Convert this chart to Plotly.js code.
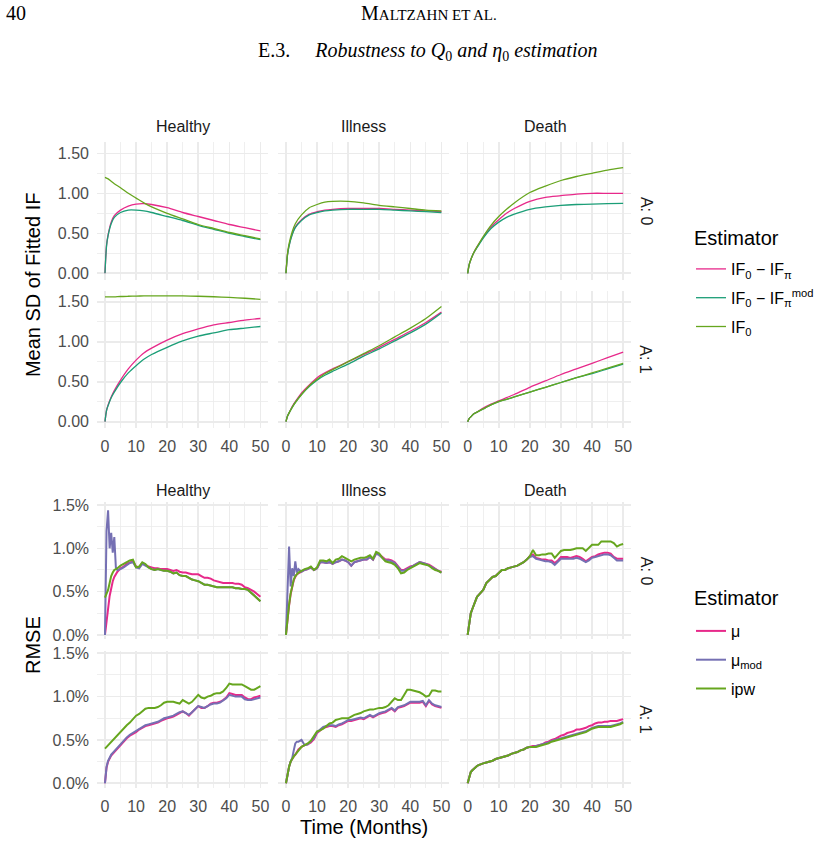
<!DOCTYPE html>
<html>
<head>
<meta charset="utf-8">
<script src="https://cdn.plot.ly/plotly-3.0.1.min.js"></script>
<style>
  html, body { margin: 0; padding: 0; background: #ffffff; }
  #chart { width: 820px; height: 844px; }
</style>
</head>
<body>
<div id="chart"></div>
<script>
// ---------------- data ----------------
const states = ['Healthy', 'Illness', 'Death'];
const treatments = ['A: 0', 'A: 1'];

// Mean SD of the fitted influence function, smooth curves over time (months)
const monthsSD = [0, 0.5, 1, 2, 3, 5, 7.5, 10, 12.5, 15, 20, 25, 30, 35, 40, 45, 50];

const sdHealthyA0Diff    = [0, 0.35, 0.48, 0.64, 0.72, 0.79, 0.84, 0.865, 0.87, 0.86, 0.82, 0.76, 0.71, 0.66, 0.61, 0.57, 0.53];
const sdHealthyA0DiffMod = [0, 0.34, 0.47, 0.62, 0.70, 0.76, 0.79, 0.79, 0.78, 0.76, 0.71, 0.66, 0.60, 0.55, 0.50, 0.46, 0.42];
const sdHealthyA0IF0     = [1.20, 1.19, 1.18, 1.15, 1.12, 1.07, 1.00, 0.94, 0.88, 0.83, 0.75, 0.68, 0.61, 0.56, 0.51, 0.47, 0.43];

const sdIllnessA0Diff    = [0, 0.24, 0.35, 0.49, 0.58, 0.67, 0.74, 0.77, 0.79, 0.80, 0.81, 0.81, 0.81, 0.80, 0.79, 0.78, 0.77];
const sdIllnessA0DiffMod = [0, 0.23, 0.34, 0.48, 0.57, 0.66, 0.73, 0.76, 0.78, 0.79, 0.80, 0.80, 0.80, 0.79, 0.78, 0.77, 0.76];
const sdIllnessA0IF0     = [0, 0.25, 0.37, 0.52, 0.62, 0.73, 0.82, 0.86, 0.89, 0.90, 0.90, 0.88, 0.85, 0.83, 0.81, 0.79, 0.78];

const sdDeathA0Diff      = [0, 0.11, 0.17, 0.26, 0.33, 0.45, 0.58, 0.67, 0.75, 0.81, 0.90, 0.95, 0.97, 0.99, 1.00, 1.00, 1.00];
const sdDeathA0DiffMod   = [0, 0.11, 0.17, 0.26, 0.32, 0.44, 0.56, 0.64, 0.70, 0.74, 0.80, 0.83, 0.85, 0.86, 0.865, 0.87, 0.875];
const sdDeathA0IF0       = [0, 0.11, 0.17, 0.26, 0.33, 0.46, 0.60, 0.71, 0.80, 0.88, 1.01, 1.09, 1.16, 1.21, 1.25, 1.29, 1.32];

const sdHealthyA1Diff    = [0, 0.14, 0.21, 0.31, 0.39, 0.52, 0.66, 0.77, 0.86, 0.92, 1.02, 1.10, 1.16, 1.21, 1.24, 1.27, 1.29];
const sdHealthyA1DiffMod = [0, 0.14, 0.20, 0.30, 0.37, 0.49, 0.61, 0.70, 0.78, 0.84, 0.93, 1.01, 1.07, 1.11, 1.15, 1.17, 1.19];
const sdHealthyA1IF0     = [1.56, 1.56, 1.56, 1.56, 1.56, 1.565, 1.568, 1.57, 1.572, 1.573, 1.574, 1.572, 1.568, 1.562, 1.553, 1.543, 1.53];

const sdIllnessA1Diff    = [0, 0.07, 0.11, 0.19, 0.25, 0.36, 0.46, 0.55, 0.61, 0.66, 0.75, 0.84, 0.93, 1.03, 1.13, 1.24, 1.37];
const sdIllnessA1DiffMod = [0, 0.07, 0.11, 0.18, 0.24, 0.34, 0.44, 0.52, 0.58, 0.63, 0.72, 0.82, 0.91, 1.01, 1.11, 1.22, 1.36];
const sdIllnessA1IF0     = [0, 0.07, 0.11, 0.18, 0.24, 0.34, 0.45, 0.53, 0.60, 0.65, 0.75, 0.85, 0.95, 1.06, 1.17, 1.29, 1.44];

const sdDeathA1Diff      = [0, 0.04, 0.06, 0.10, 0.12, 0.17, 0.22, 0.26, 0.30, 0.34, 0.43, 0.51, 0.59, 0.66, 0.73, 0.80, 0.87];
const sdDeathA1DiffMod   = [0, 0.04, 0.06, 0.10, 0.12, 0.16, 0.21, 0.25, 0.28, 0.31, 0.37, 0.43, 0.49, 0.55, 0.60, 0.66, 0.72];
const sdDeathA1IF0       = [0, 0.04, 0.06, 0.10, 0.12, 0.16, 0.21, 0.25, 0.28, 0.31, 0.37, 0.43, 0.49, 0.55, 0.61, 0.67, 0.73];

// RMSE (in percent) over time (months)
const monthsRMSE = [0, 0.5, 1, 1.5, 2, 2.5, 3, 3.5, 4, 5, 6, 7, 8, 9, 10, 11, 12, 13, 14, 15, 16, 17, 18, 19, 20,
  21, 22, 23, 24, 25, 26, 27, 28, 29, 30, 31, 32, 33, 34, 35, 36, 37, 38, 39, 40, 41, 42, 43, 44, 45, 46, 47, 48, 49, 50];

const rmseHealthyA0Mu    = [0, 0.18, 0.30, 0.45, 0.55, 0.62, 0.67, 0.70, 0.73, 0.77, 0.79, 0.82, 0.84, 0.85, 0.79, 0.78, 0.83, 0.81, 0.79, 0.78,
  0.77, 0.77, 0.76, 0.76, 0.76, 0.75, 0.74, 0.75, 0.73, 0.72, 0.72, 0.71, 0.70, 0.70, 0.70, 0.68, 0.66, 0.66, 0.65, 0.63,
  0.62, 0.61, 0.60, 0.60, 0.60, 0.60, 0.59, 0.59, 0.58, 0.55, 0.54, 0.52, 0.50, 0.47, 0.44];
const rmseHealthyA0MuMod = [0, 1.20, 1.44, 1.00, 1.18, 0.95, 1.13, 0.78, 0.75, 0.76, 0.78, 0.81, 0.83, 0.84, 0.78, 0.77, 0.82, 0.80, 0.78, 0.76,
  0.75, 0.76, 0.75, 0.74, 0.74, 0.73, 0.71, 0.72, 0.69, 0.68, 0.68, 0.66, 0.64, 0.63, 0.62, 0.60, 0.58, 0.58, 0.57, 0.56,
  0.55, 0.55, 0.55, 0.55, 0.55, 0.55, 0.54, 0.54, 0.53, 0.53, 0.52, 0.49, 0.46, 0.43, 0.39];
const rmseHealthyA0Ipw   = [0.43, 0.48, 0.52, 0.60, 0.68, 0.72, 0.75, 0.76, 0.77, 0.80, 0.82, 0.84, 0.86, 0.87, 0.78, 0.79, 0.84, 0.82, 0.78, 0.76,
  0.75, 0.76, 0.75, 0.74, 0.74, 0.73, 0.71, 0.72, 0.69, 0.68, 0.68, 0.66, 0.64, 0.63, 0.62, 0.60, 0.58, 0.58, 0.57, 0.56,
  0.55, 0.55, 0.55, 0.55, 0.55, 0.55, 0.54, 0.54, 0.53, 0.53, 0.52, 0.49, 0.46, 0.43, 0.39];

const rmseIllnessA0Mu    = [0, 0.20, 0.34, 0.47, 0.57, 0.63, 0.67, 0.70, 0.71, 0.73, 0.75, 0.76, 0.78, 0.75, 0.77, 0.84, 0.84, 0.83, 0.84, 0.82,
  0.84, 0.85, 0.87, 0.86, 0.84, 0.80, 0.84, 0.85, 0.86, 0.87, 0.87, 0.90, 0.87, 0.94, 0.93, 0.90, 0.87, 0.87, 0.86, 0.84,
  0.80, 0.75, 0.75, 0.77, 0.79, 0.80, 0.82, 0.84, 0.83, 0.82, 0.81, 0.79, 0.76, 0.74, 0.73];
const rmseIllnessA0MuMod = [0, 0.50, 1.02, 0.56, 0.77, 0.68, 0.85, 0.72, 0.76, 0.73, 0.75, 0.76, 0.78, 0.75, 0.77, 0.84, 0.84, 0.83, 0.84, 0.82,
  0.84, 0.85, 0.87, 0.86, 0.84, 0.80, 0.84, 0.85, 0.86, 0.87, 0.87, 0.90, 0.87, 0.94, 0.92, 0.89, 0.86, 0.86, 0.85, 0.83,
  0.79, 0.74, 0.74, 0.76, 0.78, 0.80, 0.82, 0.84, 0.83, 0.82, 0.80, 0.78, 0.76, 0.74, 0.72];
const rmseIllnessA0Ipw   = [0, 0.20, 0.35, 0.48, 0.58, 0.64, 0.68, 0.70, 0.72, 0.74, 0.76, 0.77, 0.79, 0.75, 0.78, 0.86, 0.86, 0.85, 0.87, 0.83,
  0.87, 0.88, 0.91, 0.89, 0.87, 0.85, 0.87, 0.88, 0.89, 0.89, 0.90, 0.92, 0.88, 0.96, 0.94, 0.89, 0.85, 0.84, 0.83, 0.81,
  0.77, 0.71, 0.72, 0.75, 0.77, 0.79, 0.81, 0.83, 0.82, 0.81, 0.80, 0.77, 0.75, 0.74, 0.72];

const rmseDeathA0Mu      = [0, 0.15, 0.25, 0.30, 0.35, 0.40, 0.44, 0.46, 0.48, 0.52, 0.60, 0.64, 0.67, 0.68, 0.72, 0.75, 0.75, 0.77, 0.78, 0.79,
  0.80, 0.82, 0.84, 0.87, 0.91, 0.93, 0.89, 0.88, 0.87, 0.87, 0.86, 0.86, 0.83, 0.86, 0.90, 0.90, 0.90, 0.89, 0.90, 0.91,
  0.90, 0.88, 0.85, 0.88, 0.90, 0.91, 0.93, 0.94, 0.95, 0.95, 0.94, 0.90, 0.88, 0.88, 0.88];
const rmseDeathA0MuMod   = [0, 0.15, 0.25, 0.30, 0.35, 0.40, 0.44, 0.46, 0.48, 0.52, 0.60, 0.64, 0.67, 0.68, 0.72, 0.75, 0.75, 0.77, 0.78, 0.79,
  0.80, 0.82, 0.84, 0.87, 0.90, 0.91, 0.88, 0.87, 0.86, 0.85, 0.85, 0.84, 0.81, 0.85, 0.88, 0.88, 0.88, 0.88, 0.88, 0.89,
  0.88, 0.86, 0.84, 0.86, 0.89, 0.90, 0.91, 0.92, 0.93, 0.93, 0.92, 0.89, 0.86, 0.86, 0.86];
const rmseDeathA0Ipw     = [0, 0.15, 0.25, 0.30, 0.35, 0.40, 0.44, 0.46, 0.48, 0.52, 0.60, 0.64, 0.67, 0.68, 0.72, 0.75, 0.75, 0.77, 0.78, 0.79,
  0.80, 0.82, 0.84, 0.87, 0.91, 0.98, 0.92, 0.92, 0.93, 0.93, 0.94, 0.94, 0.89, 0.93, 0.97, 0.98, 0.98, 0.98, 0.99, 1.00,
  1.00, 1.00, 0.97, 1.01, 1.04, 1.04, 1.04, 1.08, 1.08, 1.08, 1.08, 1.06, 1.02, 1.04, 1.05];

const rmseHealthyA1Mu    = [0, 0.18, 0.25, 0.29, 0.32, 0.34, 0.36, 0.39, 0.41, 0.45, 0.49, 0.52, 0.55, 0.57, 0.59, 0.62, 0.64, 0.66, 0.67, 0.68,
  0.69, 0.70, 0.72, 0.74, 0.75, 0.76, 0.77, 0.79, 0.81, 0.83, 0.81, 0.78, 0.82, 0.86, 0.89, 0.87, 0.87, 0.89, 0.92, 0.93,
  0.93, 0.94, 0.96, 0.99, 1.04, 1.03, 1.02, 1.02, 1.02, 0.99, 0.97, 0.97, 0.99, 1.00, 1.01];
const rmseHealthyA1MuMod = [0, 0.19, 0.26, 0.30, 0.33, 0.35, 0.37, 0.40, 0.42, 0.46, 0.50, 0.53, 0.56, 0.58, 0.60, 0.63, 0.65, 0.67, 0.68, 0.69,
  0.70, 0.71, 0.73, 0.75, 0.76, 0.77, 0.78, 0.80, 0.82, 0.83, 0.81, 0.79, 0.82, 0.86, 0.89, 0.88, 0.87, 0.89, 0.91, 0.92,
  0.92, 0.93, 0.95, 0.98, 1.02, 1.01, 1.00, 1.00, 1.00, 0.97, 0.96, 0.96, 0.97, 0.98, 0.99];
const rmseHealthyA1Ipw   = [0.40, 0.42, 0.44, 0.46, 0.48, 0.50, 0.52, 0.54, 0.56, 0.60, 0.63, 0.67, 0.70, 0.74, 0.78, 0.80, 0.83, 0.86, 0.87, 0.87,
  0.87, 0.88, 0.90, 0.93, 0.94, 0.94, 0.94, 0.93, 0.92, 0.96, 0.94, 0.92, 0.94, 0.98, 1.02, 0.99, 0.98, 1.00, 1.01, 1.03,
  1.04, 1.04, 1.06, 1.10, 1.15, 1.14, 1.14, 1.14, 1.14, 1.12, 1.10, 1.08, 1.08, 1.10, 1.12];

const rmseIllnessA1Mu    = [0, 0.12, 0.19, 0.25, 0.29, 0.31, 0.33, 0.36, 0.39, 0.42, 0.44, 0.45, 0.47, 0.51, 0.58, 0.61, 0.64, 0.65, 0.66, 0.66,
  0.65, 0.67, 0.68, 0.70, 0.72, 0.72, 0.73, 0.74, 0.75, 0.74, 0.76, 0.78, 0.76, 0.78, 0.80, 0.81, 0.82, 0.84, 0.86, 0.83,
  0.87, 0.88, 0.89, 0.91, 0.93, 0.93, 0.93, 0.93, 0.94, 0.89, 0.95, 0.91, 0.89, 0.88, 0.87];
const rmseIllnessA1MuMod = [0, 0.12, 0.19, 0.25, 0.29, 0.38, 0.46, 0.48, 0.48, 0.50, 0.44, 0.45, 0.48, 0.52, 0.59, 0.62, 0.65, 0.66, 0.67, 0.67,
  0.66, 0.68, 0.69, 0.71, 0.73, 0.73, 0.74, 0.75, 0.76, 0.75, 0.77, 0.79, 0.77, 0.79, 0.81, 0.82, 0.83, 0.85, 0.87, 0.84,
  0.88, 0.89, 0.90, 0.92, 0.94, 0.94, 0.94, 0.94, 0.95, 0.90, 0.96, 0.92, 0.90, 0.89, 0.88];
const rmseIllnessA1Ipw   = [0, 0.12, 0.19, 0.25, 0.29, 0.31, 0.33, 0.35, 0.38, 0.42, 0.44, 0.46, 0.49, 0.54, 0.60, 0.61, 0.63, 0.66, 0.69, 0.70,
  0.73, 0.74, 0.75, 0.75, 0.75, 0.77, 0.79, 0.80, 0.81, 0.83, 0.84, 0.85, 0.85, 0.86, 0.87, 0.87, 0.88, 0.90, 0.94, 0.98,
  0.96, 0.96, 1.02, 1.08, 1.08, 1.07, 1.06, 1.05, 1.03, 1.00, 1.01, 1.07, 1.07, 1.06, 1.06];

const rmseDeathA1Mu      = [0, 0.08, 0.13, 0.15, 0.17, 0.18, 0.20, 0.21, 0.22, 0.23, 0.24, 0.25, 0.26, 0.28, 0.29, 0.30, 0.31, 0.32, 0.34, 0.35,
  0.36, 0.38, 0.39, 0.41, 0.42, 0.43, 0.43, 0.44, 0.45, 0.47, 0.48, 0.50, 0.51, 0.53, 0.55, 0.56, 0.58, 0.59, 0.60, 0.62,
  0.62, 0.63, 0.64, 0.66, 0.67, 0.69, 0.70, 0.70, 0.71, 0.71, 0.72, 0.72, 0.72, 0.73, 0.74];
const rmseDeathA1MuMod   = [0, 0.08, 0.13, 0.15, 0.17, 0.18, 0.20, 0.21, 0.22, 0.23, 0.24, 0.25, 0.26, 0.28, 0.29, 0.30, 0.31, 0.32, 0.34, 0.35,
  0.36, 0.38, 0.39, 0.41, 0.42, 0.42, 0.43, 0.44, 0.45, 0.46, 0.47, 0.49, 0.50, 0.51, 0.52, 0.53, 0.54, 0.55, 0.56, 0.57,
  0.58, 0.59, 0.60, 0.62, 0.64, 0.65, 0.66, 0.66, 0.66, 0.66, 0.66, 0.67, 0.68, 0.69, 0.71];
const rmseDeathA1Ipw     = [0, 0.08, 0.13, 0.15, 0.17, 0.18, 0.20, 0.21, 0.22, 0.23, 0.24, 0.25, 0.26, 0.28, 0.29, 0.30, 0.31, 0.32, 0.34, 0.35,
  0.36, 0.38, 0.39, 0.41, 0.42, 0.42, 0.42, 0.43, 0.44, 0.45, 0.46, 0.48, 0.49, 0.50, 0.51, 0.52, 0.53, 0.54, 0.55, 0.56,
  0.57, 0.58, 0.59, 0.61, 0.63, 0.64, 0.65, 0.65, 0.65, 0.65, 0.65, 0.66, 0.67, 0.68, 0.70];

// ---------------- series definitions ----------------
const sdEstimators = ['IF<sub>0</sub> − IF<sub>π</sub>', 'IF<sub>0</sub> − IF<sub>π</sub><sup>mod</sup>', 'IF<sub>0</sub>'];
const sdColors = ['#E7298A', '#1B9E77', '#66A61E'];
const rmseEstimators = ['μ', 'μ<sub>mod</sub>', 'ipw'];
const rmseColors = ['#E7298A', '#7570B3', '#66A61E'];

// panels in reading order: [treatment row][state column]
const sdPanels = [
  [[sdHealthyA0Diff, sdHealthyA0DiffMod, sdHealthyA0IF0],
   [sdIllnessA0Diff, sdIllnessA0DiffMod, sdIllnessA0IF0],
   [sdDeathA0Diff, sdDeathA0DiffMod, sdDeathA0IF0]],
  [[sdHealthyA1Diff, sdHealthyA1DiffMod, sdHealthyA1IF0],
   [sdIllnessA1Diff, sdIllnessA1DiffMod, sdIllnessA1IF0],
   [sdDeathA1Diff, sdDeathA1DiffMod, sdDeathA1IF0]]
];
const rmsePanels = [
  [[rmseHealthyA0Mu, rmseHealthyA0MuMod, rmseHealthyA0Ipw],
   [rmseIllnessA0Mu, rmseIllnessA0MuMod, rmseIllnessA0Ipw],
   [rmseDeathA0Mu, rmseDeathA0MuMod, rmseDeathA0Ipw]],
  [[rmseHealthyA1Mu, rmseHealthyA1MuMod, rmseHealthyA1Ipw],
   [rmseIllnessA1Mu, rmseIllnessA1MuMod, rmseIllnessA1Ipw],
   [rmseDeathA1Mu, rmseDeathA1MuMod, rmseDeathA1Ipw]]
];

// ---------------- layout geometry (pixels) ----------------
const W = 820, H = 844;
const colPx = [[97.2, 268.2], [278.2, 449.2], [459.9, 630.9]];
const rowPx = [[142.1, 279.7], [290.5, 428.1], [502.4, 639.3], [650.7, 787.6]];
const fx = p => p / W;
const fy = p => 1 - p / H;

const SANS = 'Liberation Sans, Arial, Helvetica, sans-serif';
const SERIF = 'Liberation Serif, Times New Roman, serif';
const GRID = '#EBEBEB';

const traces = [];
const legendStyle = {
  xanchor: 'left', yanchor: 'top',
  bgcolor: 'rgba(0,0,0,0)', tracegroupgap: 5,
  font: {size: 16, color: '#000000', family: SANS}
};
const layout = {
  width: W, height: H,
  margin: {l: 0, r: 0, t: 0, b: 0},
  paper_bgcolor: '#ffffff',
  plot_bgcolor: 'rgba(0,0,0,0)',
  font: {family: SANS, size: 16, color: '#4D4D4D'},
  showlegend: true,
  annotations: [],
  legend: Object.assign({x: fx(691), y: fy(252)}, legendStyle),
  legend2: Object.assign({x: fx(691), y: fy(614)}, legendStyle)
};

let axisIdx = 0;
function addPanel(block, row, col, xs, seriesList, names, colors, opts) {
  axisIdx += 1;
  const sfx = axisIdx === 1 ? '' : String(axisIdx);
  const rowIdx = block * 2 + row;
  layout['xaxis' + sfx] = {
    domain: [fx(colPx[col][0]), fx(colPx[col][1])],
    range: [-2.5, 52.5],
    anchor: 'y' + sfx,
    tickmode: 'linear', tick0: 0, dtick: 10,
    showticklabels: row === 1,
    ticks: 'outside', ticklen: 4, tickcolor: 'rgba(0,0,0,0)',
    showgrid: true, gridcolor: GRID, gridwidth: 1.6,
    minor: {showgrid: true, dtick: 5, tick0: 0, gridcolor: GRID, gridwidth: 0.8},
    zeroline: false, showline: false, fixedrange: true,
    tickfont: {size: 16, color: '#4D4D4D', family: SANS}
  };
  layout['yaxis' + sfx] = {
    domain: [fy(rowPx[rowIdx][1]), fy(rowPx[rowIdx][0])],
    range: opts.yrange,
    anchor: 'x' + sfx,
    tickmode: 'linear', tick0: 0, dtick: 0.5,
    tickformat: opts.tickformat, ticksuffix: opts.suffix,
    showticklabels: col === 0,
    ticks: 'outside', ticklen: 4, tickcolor: 'rgba(0,0,0,0)',
    showgrid: true, gridcolor: GRID, gridwidth: 1.6,
    minor: {showgrid: true, dtick: 0.25, tick0: 0, gridcolor: GRID, gridwidth: 0.8},
    zeroline: false, showline: false, fixedrange: true,
    tickfont: {size: 16, color: '#4D4D4D', family: SANS}
  };
  seriesList.forEach((ys, k) => {
    traces.push({
      type: 'scatter', mode: 'lines',
      x: xs, y: ys,
      xaxis: 'x' + sfx, yaxis: 'y' + sfx,
      name: names[k],
      legend: opts.legend,
      legendgroup: opts.legend + '-' + k,
      showlegend: row === 0 && col === 0,
      line: {color: colors[k], width: opts.lineWidth, shape: opts.shape, smoothing: opts.smoothing},
      hoverinfo: 'skip'
    });
  });
}

for (let r = 0; r < 2; r++) {
  for (let c = 0; c < 3; c++) {
    addPanel(0, r, c, monthsSD, sdPanels[r][c], sdEstimators, sdColors,
      {yrange: [-0.08, 1.64], tickformat: '.2f', suffix: '', legend: 'legend',
       lineWidth: 1.3, shape: 'spline', smoothing: 0.7});
  }
}
for (let r = 0; r < 2; r++) {
  for (let c = 0; c < 3; c++) {
    addPanel(1, r, c, monthsRMSE, rmsePanels[r][c], rmseEstimators, rmseColors,
      {yrange: [-0.05, 1.53], tickformat: '.1f', suffix: '%', legend: 'legend2',
       lineWidth: 2.0, shape: 'linear', smoothing: 0});
  }
}

// ---------------- text: facet strips, axis titles, legend titles, page header ----------------
const ann = layout.annotations;
function text(t, xpx, ypx, o) {
  ann.push(Object.assign({
    text: t, x: fx(xpx), y: fy(ypx), xref: 'paper', yref: 'paper',
    showarrow: false, xanchor: 'center', yanchor: 'middle',
    font: {family: SANS, size: 16, color: '#1A1A1A'}
  }, o || {}));
}

[127, 490].forEach(yStrip => {
  states.forEach((s, c) => text(s, (colPx[c][0] + colPx[c][1]) / 2, yStrip));
});
rowPx.forEach((rp, i) => {
  text(treatments[i % 2], 646, (rp[0] + rp[1]) / 2, {textangle: 90});
});

text('Mean SD of Fitted IF', 33, (rowPx[0][0] + rowPx[1][1]) / 2,
  {textangle: -90, font: {family: SANS, size: 20, color: '#000000'}});
text('RMSE', 33, (rowPx[2][0] + rowPx[3][1]) / 2,
  {textangle: -90, font: {family: SANS, size: 20, color: '#000000'}});
text('Time (Months)', (colPx[0][0] + colPx[2][1]) / 2, 827,
  {font: {family: SANS, size: 20, color: '#000000'}});

text('Estimator', 692, 238, {xanchor: 'left', font: {family: SANS, size: 20, color: '#000000'}});
text('Estimator', 692, 598, {xanchor: 'left', font: {family: SANS, size: 20, color: '#000000'}});

text('40', 4, 13, {xanchor: 'left', font: {family: SERIF, size: 20, color: '#000000'}});
text('M<span style="font-size:15px">ALTZAHN ET AL.</span>', 429, 13,
  {font: {family: SERIF, size: 20, color: '#000000'}});
text('E.3.\u2003 <i>Robustness to Q</i><sub>0</sub><i> and η</i><sub>0</sub><i> estimation</i>', 427, 52,
  {font: {family: SERIF, size: 20, color: '#000000'}});

Plotly.newPlot('chart', traces, layout, {displayModeBar: false, staticPlot: true});
</script>
</body>
</html>
